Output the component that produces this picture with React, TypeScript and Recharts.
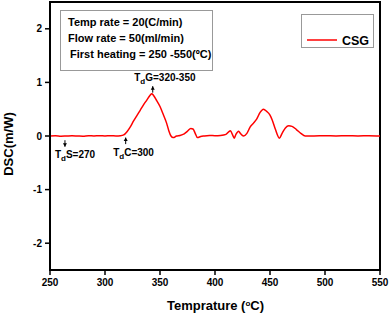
import React from 'react';
import { LineChart, Line, XAxis, YAxis, ReferenceArea, ReferenceDot, Legend } from 'recharts';

const temps = [250,255,260,265,270,275,280,285,290,295,300,305,310,314,317,320,323,326,329,332,335,338,341,342.5,344,347,350,353,356,358,360,362,365,368,372,375,378,380,382,384,387,390,395,400,405,410,414,416,417.5,419,421.5,423,426,429,432,435,438,441,444,447,450,452,455,458.5,461,464,467,470,474,478,482,490,500,510,520,530,540,550];
const dsc = [0,0.005,-0.005,0,0.005,0,-0.005,0.005,0,0.005,0,0.005,0,0.005,0.02,0.08,0.17,0.28,0.38,0.48,0.58,0.67,0.76,0.79,0.76,0.66,0.55,0.40,0.24,0.10,0.0,-0.03,0.0,0.01,0.04,0.09,0.14,0.13,0.05,-0.03,-0.01,0.0,0.01,0.005,0.01,0.03,0.10,0.02,-0.04,0.03,0.09,0.05,0.0,0.05,0.17,0.24,0.32,0.44,0.50,0.46,0.39,0.30,0.12,-0.04,0.05,0.15,0.19,0.18,0.12,0.05,0.0,0.0,0.005,0,0.005,0,0.005,0];
const xTicks = [250,300,350,400,450,500,550];
const yTicks = [-2,-1,0,1,2];
const seriesName = 'CSG';
const infoLines = ['Temp rate = 20(C/min)', 'Flow rate = 50(ml/min)', ' First heating = 250 -550(\u00baC)'];
const annotations = [
  { x: 263.6, y: -0.2, dir: 'down', sub: 'S', rest: '=270', dx: -10, ty: 11 },
  { x: 318.8, y: -0.03, dir: 'up', sub: 'C', rest: '=300', dx: -12.5, ty: 18 },
  { x: 343.4, y: 0.93, dir: 'up', sub: 'G', rest: '=320-350', dx: -18.5, ty: -5 },
];

const data = temps.map((t, i) => ({ t, v: dsc[i] }));
const FONT = '"Liberation Sans", Arial, sans-serif';

const makeShape = (a: any) => (props: any) => {
  const { cx, cy } = props;
  if (cx == null || cy == null) return <g />;
  const len = 6.5;
  const tail = a.dir === 'down' ? cy - len : cy + len;
  const head = a.dir === 'down'
    ? `M${cx - 2},${cy - 3.5} L${cx + 2},${cy - 3.5} L${cx},${cy} Z`
    : `M${cx - 2},${cy + 3.5} L${cx + 2},${cy + 3.5} L${cx},${cy} Z`;
  return (
    <g>
      <line x1={cx} y1={tail} x2={cx} y2={cy} stroke="#000" strokeWidth={1} />
      <path d={head} fill="#000" />
      <text x={cx + a.dx} y={cy + a.ty} fontFamily={FONT} fontWeight="bold" fontSize={10} fill="#000">
        <tspan>T</tspan>
        <tspan dy={3} fontSize={8}>d</tspan>
        <tspan dy={-3}>{a.sub + a.rest}</tspan>
      </text>
    </g>
  );
};

const LegendContent = () => (
  <svg width={73} height={34} style={{ display: 'block' }}>
    <rect x={0.5} y={0.5} width={72} height={33} fill="#fff" stroke="#999" strokeWidth={1} />
    <line x1={6} y1={26} x2={36} y2={26} stroke="#ff0000" strokeWidth={1.5} />
    <text x={41} y={30.5} fontFamily={FONT} fontWeight="bold" fontSize={12.5} fill="#000">{seriesName}</text>
  </svg>
);

export default function App() {
  return (
    <div style={{ position: 'absolute', left: 0, top: 0, width: 390, height: 314, background: '#fff' }}>
      <LineChart width={390} height={314} data={data} margin={{ top: 2, right: 10, left: 10, bottom: 14 }}>
        <XAxis
          dataKey="t"
          type="number"
          domain={[250, 550]}
          ticks={xTicks}
          allowDataOverflow
          height={30}
          axisLine={{ stroke: '#000', strokeWidth: 2 }}
          tickLine={{ stroke: '#000', strokeWidth: 1.5 }}
          tickSize={5}
          tickMargin={4}
          tick={{ fill: '#000', fontSize: 10, fontWeight: 'bold', fontFamily: FONT }}
        />
        <YAxis
          type="number"
          domain={[-2.5, 2.5]}
          ticks={yTicks}
          allowDataOverflow
          width={40}
          axisLine={{ stroke: '#000', strokeWidth: 2 }}
          tickLine={{ stroke: '#000', strokeWidth: 1.5 }}
          tickSize={5}
          tickMargin={3}
          tick={{ fill: '#000', fontSize: 10, fontWeight: 'bold', fontFamily: FONT }}
        />
        <ReferenceArea x1={250} x2={550} y1={-2.5} y2={2.5} fill="none" stroke="#000" strokeWidth={2} ifOverflow="visible" />
        <Line type="monotone" dataKey="v" name={seriesName} stroke="#ff0000" strokeWidth={1.5} dot={false} isAnimationActive={false} />
        {annotations.map((a, i) => (
          <ReferenceDot key={i} x={a.x} y={a.y} r={0} ifOverflow="visible" shape={makeShape(a)} />
        ))}
        <Legend
          layout="vertical"
          align="center"
          verticalAlign="middle"
          content={LegendContent}
          wrapperStyle={{ position: 'absolute', left: 301, top: 14, width: 73, height: 34 }}
        />
      </LineChart>
      <svg width={390} height={314} style={{ position: 'absolute', left: 0, top: 0, pointerEvents: 'none' }}>
        <rect x={60.5} y={10.5} width={152} height={60} fill="#fff" stroke="#999" strokeWidth={1} />
        <text x={68} y={26} fontFamily={FONT} fontWeight="bold" fontSize={11} fill="#000">{infoLines[0]}</text>
        <text x={68} y={42} fontFamily={FONT} fontWeight="bold" fontSize={11} fill="#000">{infoLines[1]}</text>
        <text x={67} y={57.5} fontFamily={FONT} fontWeight="bold" fontSize={11} fill="#000" xmlSpace="preserve">{infoLines[2]}</text>
        <text x={12.5} y={144} transform="rotate(-90 12.5 144)" textAnchor="middle" fontFamily={FONT} fontWeight="bold" fontSize={13} fill="#000">DSC(m/W)</text>
        <text x={215.5} y={309.5} textAnchor="middle" fontFamily={FONT} fontWeight="bold" fontSize={13} fill="#000">
          <tspan>Temprature (</tspan>
          <tspan dy={-4} fontSize={8}>o</tspan>
          <tspan dy={4}>C)</tspan>
        </text>
      </svg>
    </div>
  );
}
